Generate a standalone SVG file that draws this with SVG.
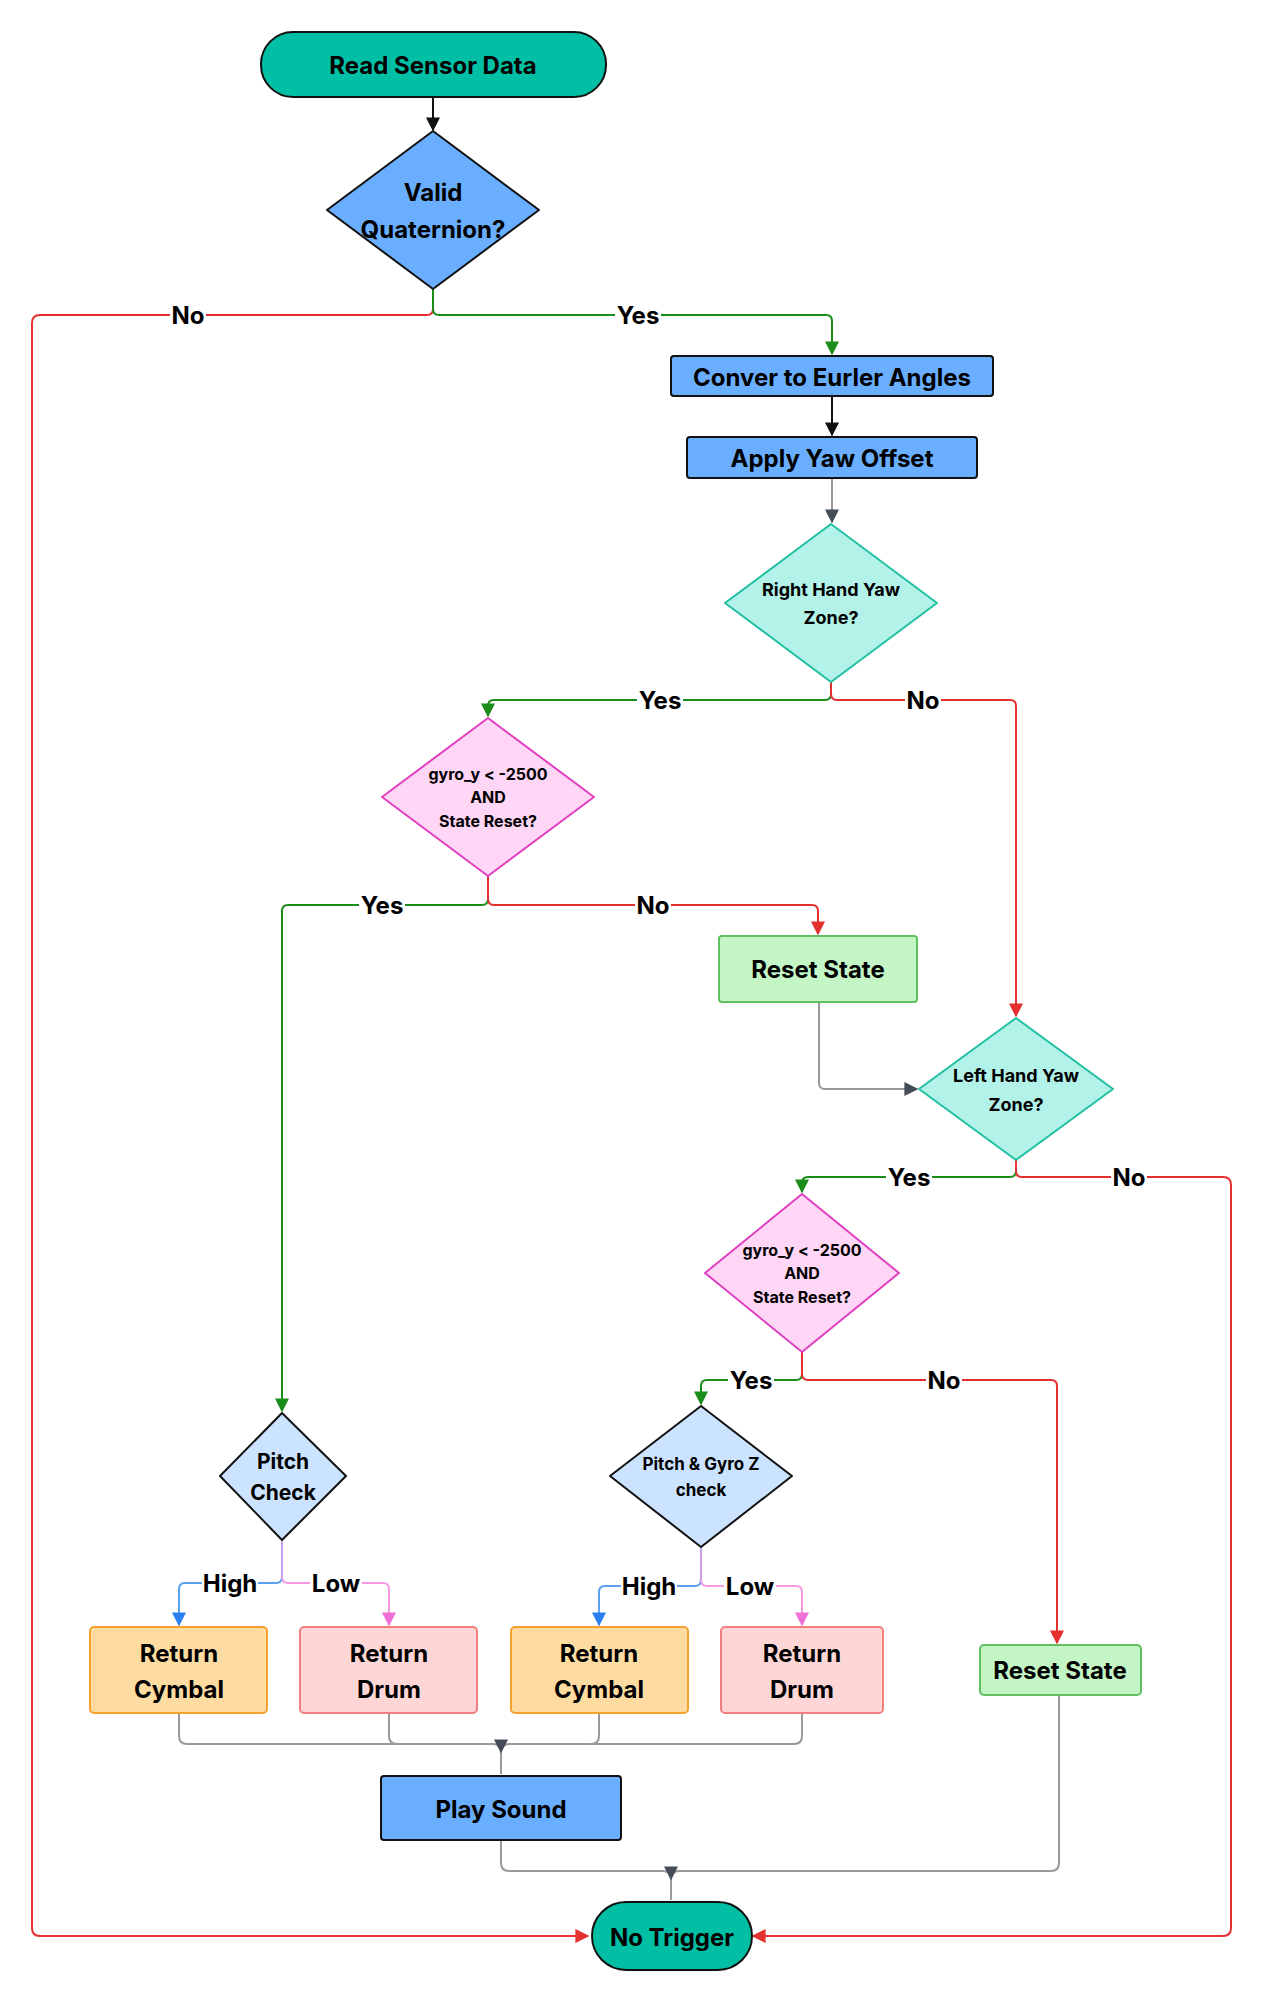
<svg xmlns="http://www.w3.org/2000/svg" width="1264" height="1999" viewBox="0 0 1264 1999">
<style>
text{font-family:Inter,"Liberation Sans",sans-serif;font-weight:bold;fill:#000;text-anchor:middle;dominant-baseline:central}
.t24{font-size:24px}.t20{font-size:21px}.t16{font-size:16px}.t15{font-size:15px}
.lbl{font-size:24px}
.c{fill:none;stroke-width:2}
.k{stroke:#111}.g{stroke:#1a8c1a}.r{stroke:#e53030}.gr{stroke:#999}.bl{stroke:#5aa0f0}.pk{stroke:#f39ae3}.pu{stroke:#c9a0e8}
</style>
<defs>
<marker id="ak" viewBox="0 0 10 10" refX="9" refY="5" markerWidth="7" markerHeight="7" orient="auto"><path d="M0,0L10,5L0,10z" fill="#111"/></marker>
<marker id="ag" viewBox="0 0 10 10" refX="9" refY="5" markerWidth="7" markerHeight="7" orient="auto"><path d="M0,0L10,5L0,10z" fill="#1a8c1a"/></marker>
<marker id="ar" viewBox="0 0 10 10" refX="9" refY="5" markerWidth="7" markerHeight="7" orient="auto"><path d="M0,0L10,5L0,10z" fill="#e53030"/></marker>
<marker id="agr" viewBox="0 0 10 10" refX="9" refY="5" markerWidth="7" markerHeight="7" orient="auto"><path d="M0,0L10,5L0,10z" fill="#444c58"/></marker>
<marker id="abl" viewBox="0 0 10 10" refX="9" refY="5" markerWidth="7" markerHeight="7" orient="auto"><path d="M0,0L10,5L0,10z" fill="#2a80f0"/></marker>
<marker id="apk" viewBox="0 0 10 10" refX="9" refY="5" markerWidth="7" markerHeight="7" orient="auto"><path d="M0,0L10,5L0,10z" fill="#f070d8"/></marker>
</defs>
<rect width="1264" height="1999" fill="#fff"/>
<g id="connectors">
<path class="c k" d="M433,97V130" marker-end="url(#ak)"/>
<path class="c r" d="M433,289V309Q433,315 427,315H40Q32,315 32,323V1928Q32,1936 40,1936H588" marker-end="url(#ar)"/>
<path class="c g" d="M433,289V309Q433,315 439,315H826Q832,315 832,321V354" marker-end="url(#ag)"/>
<path class="c k" d="M832,396V435" marker-end="url(#ak)"/>
<path class="c gr" d="M832,478V522" marker-end="url(#agr)"/>
<path class="c g" d="M831,682V694Q831,700 825,700H494Q488,700 488,706V716" marker-end="url(#ag)"/>
<path class="c r" d="M831,682V694Q831,700 837,700H1010Q1016,700 1016,706V1016" marker-end="url(#ar)"/>
<path class="c g" d="M488,876V899Q488,905 482,905H288Q282,905 282,911V1411" marker-end="url(#ag)"/>
<path class="c r" d="M488,876V899Q488,905 494,905H812Q818,905 818,911V934" marker-end="url(#ar)"/>
<path class="c gr" d="M819,1002V1083Q819,1089 825,1089H917" marker-end="url(#agr)"/>
<path class="c g" d="M1016,1160V1171Q1016,1177 1010,1177H808Q802,1177 802,1183V1192" marker-end="url(#ag)"/>
<path class="c r" d="M1016,1160V1171Q1016,1177 1022,1177H1223Q1231,1177 1231,1185V1928Q1231,1936 1223,1936H753" marker-end="url(#ar)"/>
<path class="c g" d="M802,1352V1374Q802,1380 796,1380H707Q701,1380 701,1386V1404" marker-end="url(#ag)"/>
<path class="c r" d="M802,1352V1374Q802,1380 808,1380H1051Q1057,1380 1057,1386V1643" marker-end="url(#ar)"/>
<path class="c pu" d="M282,1540V1577"/>
<path class="c bl" d="M282,1577Q282,1583 276,1583H185Q179,1583 179,1589V1625" marker-end="url(#abl)"/>
<path class="c pk" d="M282,1577Q282,1583 288,1583H383Q389,1583 389,1589V1625" marker-end="url(#apk)"/>
<path class="c pu" d="M701,1547V1580"/>
<path class="c bl" d="M701,1580Q701,1586 695,1586H605Q599,1586 599,1592V1625" marker-end="url(#abl)"/>
<path class="c pk" d="M701,1580Q701,1586 707,1586H796Q802,1586 802,1592V1625" marker-end="url(#apk)"/>
<path class="c gr" d="M179,1713V1736Q179,1744 187,1744H493Q501,1744 501,1752V1774M389,1713V1736Q389,1744 397,1744H493M599,1713V1736Q599,1744 591,1744H509M802,1713V1736Q802,1744 794,1744H509Q501,1744 501,1752" marker-end="url(#agr)"/>
<path class="c gr" d="M501,1840V1863Q501,1871 509,1871H663Q671,1871 671,1879V1900M1059,1695V1863Q1059,1871 1051,1871H679Q671,1871 671,1879" marker-end="url(#agr)"/>
<g>
<rect x="170" y="302" width="36" height="26" fill="#fff"/><text class="lbl" x="188" y="315">No</text>
<rect x="615" y="302" width="46" height="26" fill="#fff"/><text class="lbl" x="638" y="315">Yes</text>
<rect x="637" y="687" width="46" height="26" fill="#fff"/><text class="lbl" x="660" y="700">Yes</text>
<rect x="905" y="687" width="36" height="26" fill="#fff"/><text class="lbl" x="923" y="700">No</text>
<rect x="359" y="892" width="46" height="26" fill="#fff"/><text class="lbl" x="382" y="905">Yes</text>
<rect x="635" y="892" width="36" height="26" fill="#fff"/><text class="lbl" x="653" y="905">No</text>
<rect x="886" y="1164" width="46" height="26" fill="#fff"/><text class="lbl" x="909" y="1177">Yes</text>
<rect x="1111" y="1164" width="36" height="26" fill="#fff"/><text class="lbl" x="1129" y="1177">No</text>
<rect x="728" y="1367" width="46" height="26" fill="#fff"/><text class="lbl" x="751" y="1380">Yes</text>
<rect x="926" y="1367" width="36" height="26" fill="#fff"/><text class="lbl" x="944" y="1380">No</text>
<rect x="202" y="1570" width="56" height="26" fill="#fff"/><text class="lbl" x="230" y="1583">High</text>
<rect x="310" y="1570" width="52" height="26" fill="#fff"/><text class="lbl" x="336" y="1583">Low</text>
<rect x="621" y="1573" width="56" height="26" fill="#fff"/><text class="lbl" x="649" y="1586">High</text>
<rect x="724" y="1573" width="52" height="26" fill="#fff"/><text class="lbl" x="750" y="1586">Low</text>
</g>
</g>
<g id="read"><rect x="261" y="32" width="345" height="65" rx="32" fill="#00bfa5" stroke="#111" stroke-width="2"/><text class="t24" x="433" y="65">Read Sensor Data</text></g>
<g id="valid"><path d="M433,131L539,210L433,289L327,210Z" fill="#6aaeff" stroke="#111" stroke-width="2" stroke-linejoin="round"/><text class="t24" x="433" y="192">Valid</text><text class="t24" x="433" y="229">Quaternion?</text></g>
<g id="conver"><rect x="671" y="356" width="322" height="40" rx="3" fill="#6aaeff" stroke="#111" stroke-width="2"/><text class="t24" x="832" y="377">Conver to Eurler Angles</text></g>
<g id="yaw"><rect x="687" y="437" width="290" height="41" rx="3" fill="#6aaeff" stroke="#111" stroke-width="2"/><text class="t24" x="832" y="458">Apply Yaw Offset</text></g>
<g id="right"><path d="M831,524L937,603L831,682L725,603Z" fill="#b2f2e8" stroke="#20c0a0" stroke-width="2" stroke-linejoin="round"/><text class="t20" x="831" y="589" style="font-size:18px">Right Hand Yaw</text><text x="831" y="617" style="font-size:18px">Zone?</text></g>
<g id="gyro1"><path d="M488,718L594,797L488,876L382,797Z" fill="#ffd6f5" stroke="#e040c0" stroke-width="2" stroke-linejoin="round"/><text class="t16" x="488" y="774">gyro_y &lt; -2500</text><text class="t16" x="488" y="797">AND</text><text class="t16" x="488" y="821">State Reset?</text></g>
<g id="reset1"><rect x="719" y="936" width="198" height="66" rx="3" fill="#c3f5c5" stroke="#60c060" stroke-width="2"/><text class="t24" x="818" y="969">Reset State</text></g>
<g id="left"><path d="M1016,1018L1113,1089L1016,1160L919,1089Z" fill="#b2f2e8" stroke="#20c0a0" stroke-width="2" stroke-linejoin="round"/><text x="1016" y="1075" style="font-size:18px">Left Hand Yaw</text><text x="1016" y="1104" style="font-size:18px">Zone?</text></g>
<g id="gyro2"><path d="M802,1194L899,1273L802,1352L705,1273Z" fill="#ffd6f5" stroke="#e040c0" stroke-width="2" stroke-linejoin="round"/><text class="t16" x="802" y="1250">gyro_y &lt; -2500</text><text class="t16" x="802" y="1273">AND</text><text class="t16" x="802" y="1297">State Reset?</text></g>
<g id="pitch"><path d="M282,1413L346,1476L282,1540L220,1476Z" fill="#cce3ff" stroke="#111" stroke-width="2" stroke-linejoin="round"/><text class="t20" x="283" y="1461">Pitch</text><text class="t20" x="283" y="1492">Check</text></g>
<g id="pitchgyro"><path d="M701,1406L792,1476L701,1547L610,1476Z" fill="#cce3ff" stroke="#111" stroke-width="2" stroke-linejoin="round"/><text x="701" y="1464" style="font-size:17px">Pitch &amp; Gyro Z</text><text x="701" y="1490" style="font-size:17px">check</text></g>
<g id="cym1"><rect x="90" y="1627" width="177" height="86" rx="4" fill="#fedba0" stroke="#f5a030" stroke-width="2"/><text class="t24" x="179" y="1653">Return</text><text class="t24" x="179" y="1689">Cymbal</text></g>
<g id="drum1"><rect x="300" y="1627" width="177" height="86" rx="4" fill="#ffd6d6" stroke="#f08080" stroke-width="2"/><text class="t24" x="389" y="1653">Return</text><text class="t24" x="389" y="1689">Drum</text></g>
<g id="cym2"><rect x="511" y="1627" width="177" height="86" rx="4" fill="#fedba0" stroke="#f5a030" stroke-width="2"/><text class="t24" x="599" y="1653">Return</text><text class="t24" x="599" y="1689">Cymbal</text></g>
<g id="drum2"><rect x="721" y="1627" width="162" height="86" rx="4" fill="#ffd6d6" stroke="#f08080" stroke-width="2"/><text class="t24" x="802" y="1653">Return</text><text class="t24" x="802" y="1689">Drum</text></g>
<g id="reset2"><rect x="980" y="1645" width="161" height="50" rx="4" fill="#c3f5c5" stroke="#60c060" stroke-width="2"/><text class="t24" x="1060" y="1670">Reset State</text></g>
<g id="play"><rect x="381" y="1776" width="240" height="64" rx="3" fill="#6aaeff" stroke="#111" stroke-width="2"/><text class="t24" x="501" y="1809">Play Sound</text></g>
<g id="notrig"><rect x="592" y="1902" width="160" height="68" rx="34" fill="#00bfa5" stroke="#111" stroke-width="2"/><text class="t24" x="672" y="1937">No Trigger</text></g>
</svg>
